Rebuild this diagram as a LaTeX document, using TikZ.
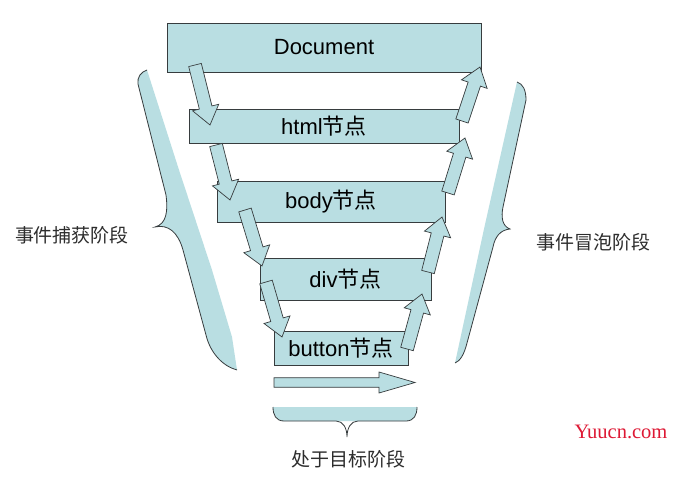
\documentclass[tikz,border=0pt]{standalone}
\usepackage{fontspec}
\setmainfont{Liberation Sans}
\newfontfamily\cjk{Noto Sans CJK SC}
\newfontfamily\wmfont{Liberation Serif}
\usetikzlibrary{calc}
\definecolor{boxfill}{RGB}{185,222,226}
\definecolor{edgecol}{RGB}{55,60,62}
\definecolor{labelgray}{RGB}{45,45,45}
\definecolor{wmred}{RGB}{222,24,52}
\tikzset{
  stage/.style={draw=edgecol, line width=0.9pt, fill=boxfill, inner sep=0pt,
    font=\fontsize{22}{25}\selectfont, text=black},
  blockarrow/.style={draw=edgecol, line width=0.7pt, fill=boxfill, line join=miter},
  bracefill/.style={fill=boxfill, draw=none},
  braceline/.style={draw=edgecol, line width=0.8pt},
  phase/.style={font=\cjk\fontsize{19}{22}\selectfont, text=labelgray},
}
\newcommand\blockarr[5]{%
  \coordinate (ba-h) at ($(#2)!#5!(#1)$);
  \draw[blockarrow] ($(#1)!#3!90:(#2)$) -- ($(ba-h)!#3!90:(#2)$) -- ($(ba-h)!#4!90:(#2)$) -- (#2)
    -- ($(ba-h)!#4!-90:(#2)$) -- ($(ba-h)!#3!-90:(#2)$) -- ($(#1)!#3!-90:(#2)$) -- cycle;
}
\begin{document}
\begin{tikzpicture}[x=1pt,y=-1pt]
\useasboundingbox[fill=white] (0,0) rectangle (683,486);

% stage boxes
\node[stage, minimum width=314pt, minimum height=49pt] (doc) at (324,47.5) {Document};
\node[stage, minimum width=270pt, minimum height=34pt] (html) at (324,126) {html{\cjk 节点}};
\node[stage, minimum width=228pt, minimum height=41pt] (body) at (331,201.5) {body{\cjk 节点}};
\node[stage, minimum width=171pt, minimum height=42pt] (div) at (345.5,279) {div{\cjk 节点}};
\node[stage, minimum width=134pt, minimum height=34pt] (button) at (341,348) {button{\cjk 节点}};

% capture arrows (down, left side)
\coordinate (c1a) at (195,65);  \coordinate (c1b) at (210,125);
\coordinate (c2a) at (216,145); \coordinate (c2b) at (230,200);
\coordinate (c3a) at (245,210); \coordinate (c3b) at (262,266);
\coordinate (c4a) at (266,282); \coordinate (c4b) at (282,337);
\blockarr{c1a}{c1b}{6.5pt}{13.5pt}{18pt}
\blockarr{c2a}{c2b}{6.5pt}{13.5pt}{18pt}
\blockarr{c3a}{c3b}{6.5pt}{13.5pt}{18pt}
\blockarr{c4a}{c4b}{6.5pt}{13.5pt}{18pt}

% bubble arrows (up, right side)
\coordinate (b1a) at (407,349); \coordinate (b1b) at (422,294);
\coordinate (b2a) at (428,272); \coordinate (b2b) at (442,217);
\coordinate (b3a) at (448,193); \coordinate (b3b) at (465,138);
\coordinate (b4a) at (462,121); \coordinate (b4b) at (480,67);
\blockarr{b1a}{b1b}{6.5pt}{13.5pt}{18pt}
\blockarr{b2a}{b2b}{6.5pt}{13.5pt}{18pt}
\blockarr{b3a}{b3b}{6.5pt}{13.5pt}{18pt}
\blockarr{b4a}{b4b}{6.5pt}{13.5pt}{18pt}

% target arrow (horizontal)
\coordinate (t1a) at (274,382.5); \coordinate (t1b) at (415,382.5);
\blockarr{t1a}{t1b}{4.8pt}{10.5pt}{36pt}

% left brace (capture)
\fill[bracefill] (147,70) .. controls (141,72) and (137,77) .. (138,84) -- (166,195)
  .. controls (168,210) and (167,224) .. (155,227) .. controls (168,224) and (178,232) .. (183,250)
  -- (206,335) .. controls (210,352) and (222,366) .. (237,370)
  -- (232,337) -- (212,270) -- (179,170) -- cycle;
\draw[braceline] (147,70) .. controls (141,72) and (137,77) .. (138,84) -- (166,195)
  .. controls (168,210) and (167,224) .. (155,227) .. controls (168,224) and (178,232) .. (183,250)
  -- (206,335) .. controls (210,352) and (222,366) .. (237,370);

% right brace (bubble)
\fill[bracefill] (517,82) .. controls (523,84) and (526,90) .. (526,100) -- (503,207)
  .. controls (501,217) and (502,226) .. (510,229) .. controls (500,230) and (495,237) .. (493,247)
  -- (467,343) .. controls (464,355) and (460,361) .. (455,363)
  -- (484,229) -- cycle;
\draw[braceline] (517,82) .. controls (523,84) and (526,90) .. (526,100) -- (503,207)
  .. controls (501,217) and (502,226) .. (510,229) .. controls (500,230) and (495,237) .. (493,247)
  -- (467,343) .. controls (464,355) and (460,361) .. (455,363);

% bottom brace (target)
\fill[bracefill] (273,407) .. controls (273,415) and (276,421) .. (284,421) -- (406,421)
  .. controls (414,421) and (417,415) .. (417,407) -- cycle;
\draw[braceline] (273,407) .. controls (273,415) and (276,421) .. (284,421) -- (336,421)
  .. controls (343,421) and (347,428) .. (347,437) .. controls (347,428) and (351,421) .. (358,421)
  -- (406,421) .. controls (414,421) and (417,415) .. (417,407);

% phase labels
\node[phase] (capture) at (72,235) {事件捕获阶段};
\node[phase] (bubble) at (593,242) {事件冒泡阶段};
\node[phase] (target) at (348,459) {处于目标阶段};

% watermark
\node[font=\wmfont\fontsize{20.5}{23}\selectfont, text=wmred] (wm) at (621,432) {Yuucn.com};
\end{tikzpicture}
\end{document}
